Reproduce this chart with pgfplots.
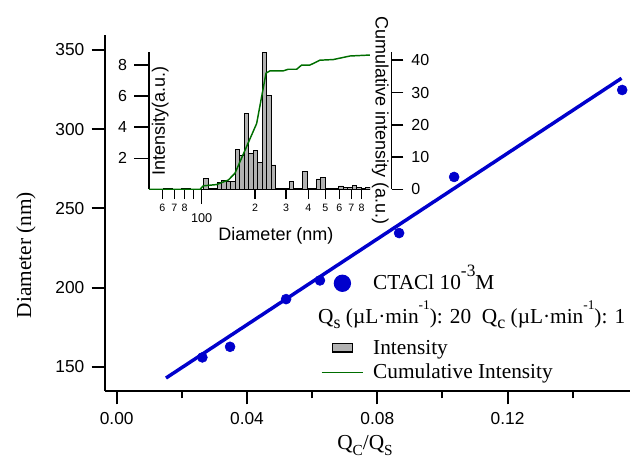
\documentclass[border=0pt]{standalone}
\usepackage{pgfplots}
\pgfplotsset{compat=1.18}
\usepackage{pgfplotstable}
\usepackage{fontspec}
\setmainfont{Liberation Serif}
\newfontfamily\arial{Liberation Sans}
\definecolor{myblue}{RGB}{0,0,204}
\definecolor{mygreen}{RGB}{0,110,0}
\definecolor{bargray}{RGB}{178,178,178}
\newcommand{\lsub}[1]{\raisebox{-3.75pt}{\fontsize{13.5}{13.5}\selectfont #1}}
\newcommand{\lsup}[1]{\raisebox{10pt}{\fontsize{10}{10}\selectfont #1}}

\pgfplotstableread{
x y
0.0263 155.9
0.0348 162.6
0.0520 192.7
0.0624 204.5
0.0867 234.4
0.1036 269.8
0.1552 324.7
}\diamdata

\pgfplotstableread{
d h
62.5 0.08
66.3 0.05
79.0 0.08
83.8 0.05
105.9 0.71
112.2 0.05
119.0 0.08
126.2 0.43
133.8 0.56
141.9 0.50
150.4 0.54
159.5 2.58
169.1 2.17
179.3 4.89
190.1 2.32
201.6 2.49
213.7 1.72
226.6 8.79
240.3 6.03
254.8 1.57
270.1 0.05
286.4 0.05
303.7 0.05
322.0 0.48
341.4 0.05
362.0 0.05
383.8 1.16
407.0 0.05
431.5 0.05
457.5 0.67
485.1 0.75
514.4 0.08
545.4 0.08
578.3 0.08
613.2 0.22
650.2 0.15
689.4 0.10
730.9 0.28
775.0 0.12
821.8 0.08
871.3 0.10
}\histdata

\pgfplotstableread{
d c
50.4 0
97.8 0
102.1 1.1
121.5 1.5
141.4 2.9
154.2 5.0
204.5 20.4
231.0 36.0
243.2 36.7
289.1 36.7
308.5 37.2
344.2 37.2
367.3 38.5
409.2 38.5
465.9 40.0
554.2 40.2
688.6 41.3
892.8 41.6
}\cumdata

\begin{document}
\begin{tikzpicture}
\useasboundingbox (0,0) rectangle (472.5pt,348.75pt);
% ---------------- main axis
\begin{axis}[
  at={(78.75pt,55.5pt)}, anchor=south west,
  width=393.75pt, height=267pt, scale only axis,
  xmin=-0.0036, xmax=0.1576, ymin=134.7, ymax=359.4,
  axis x line=bottom, axis y line=left,
  axis line style={-, line width=1.5pt},
  tick align=outside,
  tick style={black, line width=1.5pt},
  major tick length=10pt, minor tick length=5.5pt,
  xtick={0,0.04,0.08,0.12}, xticklabels={0.00,0.04,0.08,0.12},
  minor xtick={0.02,0.06,0.10,0.14},
  ytick={150,200,250,300,350}, minor ytick={},
  /pgf/number format/assume math mode=true,
  ticklabel style={font=\arial\fontsize{13}{13}\selectfont},
  xticklabel style={yshift=-2.4pt},
  yticklabel style={xshift=-2pt},
  clip=false,
  legend cell align=left,
  legend style={draw=none, fill=none, at={(0.41143,0.34382)}, anchor=north west,
     inner xsep=0pt, inner ysep=0pt, outer sep=0pt, column sep=7.3pt, row sep=0pt,
     nodes={inner sep=0pt, outer sep=0pt, text depth=0pt, draw=none},
     font=\fontsize{16}{16}\selectfont},
]
\addplot[forget plot, myblue, line width=2.6pt] coordinates {(0.01513,142.9) (0.155,332.1)};
\addplot[forget plot, only marks, mark=*, mark size=3.75pt, myblue] table[x=x,y=y] {\diamdata};
\addlegendimage{legend image code/.code={\path[draw=none,fill=none] (0pt,-11pt) rectangle (30.75pt,11pt); \fill[myblue, draw=none] (15.5pt,0pt) circle (6.5pt);}}
\addlegendentry{\smash{CTACl 10\raisebox{10pt}{\fontsize{13}{13}\selectfont -3}M}\rule{0pt}{10pt}}
\addlegendimage{legend image code/.code={\path[draw=none,fill=none] (0pt,-14pt) rectangle (30.75pt,14pt);}}
\addlegendentry{\hspace*{-41.25pt}\smash{Q\lsub{s} (µL·min\lsup{-1}): 20\ \ Q\lsub{c} (µL·min\lsup{-1}): 1}\rule{0pt}{10pt}}
\addlegendimage{legend image code/.code={\path[draw=none,fill=none] (0pt,-9.25pt) rectangle (30.75pt,9.25pt); \draw[fill=bargray, draw=black, line width=1.1pt] (8pt,-3.15pt) rectangle (23pt,3.15pt);}}
\addlegendentry{\smash{Intensity}\rule{0pt}{10pt}}
\addlegendimage{legend image code/.code={\path[draw=none,fill=none] (0pt,-9.25pt) rectangle (30.75pt,9.25pt); \draw[mygreen, line width=1.1pt] (0pt,0pt) -- (30.75pt,0pt);}}
\addlegendentry{\smash{Cumulative Intensity}\rule{0pt}{10pt}}
\end{axis}
% ---------------- inset: histogram
\begin{axis}[
  at={(111.75pt,206.7pt)}, anchor=south west,
  width=165.75pt, height=103.05pt, scale only axis,
  xmode=log, xmin=50.4, xmax=892.8, ymin=0, ymax=8.84,
  axis x line=bottom, axis y line=left,
  axis line style={-, line width=1.1pt},
  tick align=outside,
  tick style={black, line width=1.1pt},
  major tick length=11pt, minor tick length=7.3pt,
  xtick={100}, xticklabels={100},
  minor xtick={90,900},
  extra x ticks={60,70,80,200,300,400,500,600,700,800},
  extra x tick labels={6,7,8,2,3,4,5,6,7,8},
  extra x tick style={major tick length=7.3pt, xticklabel style={yshift=3.4pt, font=\arial\fontsize{8}{8}\selectfont}},
  ytick={2,4,6,8},
  /pgf/number format/assume math mode=true,
  yticklabel style={font=\arial\fontsize{12}{12}\selectfont, xshift=-2pt},
  xticklabel style={font=\arial\fontsize{9.5}{9.5}\selectfont, yshift=-3.4pt},
]
\addplot[ybar, bar width=3.375pt, fill=bargray, draw=black, line width=0.7pt] table[x=d,y=h] {\histdata};
\end{axis}
% ---------------- inset: cumulative
\begin{axis}[
  at={(111.75pt,206.7pt)}, anchor=south west,
  width=182.0pt, height=103.05pt, scale only axis,
  xmode=log, xmin=50.4, xmax=1184.6, ymin=0, ymax=42.54,
  axis x line=none, axis y line*=right,
  axis line style={-, line width=1.1pt},
  tick align=outside,
  tick style={black, line width=1.1pt},
  major tick length=8.8pt,
  ytick={0,10,20,30,40},
  /pgf/number format/assume math mode=true,
  yticklabel style={font=\arial\fontsize{12}{12}\selectfont, xshift=2.5pt},
]
\addplot[mygreen, line width=1.1pt] table[x=d,y=c] {\cumdata};
\end{axis}
% ---------------- labels
\node[rotate=90, anchor=base, inner sep=0pt, font=\fontsize{16}{16}\selectfont] at (23.25pt,157.5pt) {Diameter (nm)};
\node[anchor=base, inner sep=0pt, font=\fontsize{16}{16}\selectfont] at (273.75pt,12pt) {Q\raisebox{-4.5pt}{\fontsize{11.5}{11.5}\selectfont C}/Q\raisebox{-4.5pt}{\fontsize{11.5}{11.5}\selectfont S}};
\node[rotate=90, anchor=north, inner sep=0pt, font=\arial\fontsize{13.5}{13.5}\selectfont] at (113.6pt,258.2pt) {Intensity(a.u.)};
\node[rotate=-90, anchor=north, inner sep=0pt, font=\arial\fontsize{13.5}{13.5}\selectfont] at (291.75pt,258.2pt) {Cumulative intensity (a.u.)};
\node[anchor=base, inner sep=0pt, font=\arial\fontsize{13.5}{13.5}\selectfont] at (207pt,168.75pt) {Diameter (nm)};
\end{tikzpicture}
\end{document}
